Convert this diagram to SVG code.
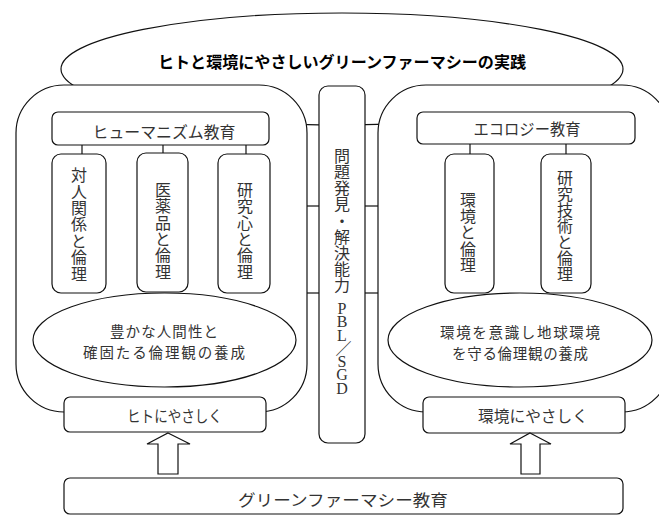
<svg xmlns="http://www.w3.org/2000/svg" width="659" height="516" viewBox="0 0 659 516">
<style>
.s{fill:#fff;stroke:#111;stroke-width:1.2}
.t{font-family:"Noto Sans CJK JP","Liberation Sans",sans-serif;font-size:16px;fill:#333;text-anchor:middle}
.e{font-family:"Noto Sans CJK JP","Liberation Sans",sans-serif;font-size:14.5px;fill:#333;text-anchor:middle}
.v{font-family:"Noto Sans CJK JP","Liberation Sans",sans-serif;font-size:16px;fill:#333;text-anchor:middle;writing-mode:vertical-rl}
.l{font-family:"Liberation Serif","Noto Sans CJK JP",serif;font-size:16px;fill:#333;text-anchor:middle;writing-mode:vertical-rl;text-orientation:upright}
.c{stroke:#111;stroke-width:1.2;fill:none}
</style>
<rect width="659" height="516" fill="#fff"/>
<g id="title">
<ellipse class="s" cx="342" cy="69" rx="281" ry="56"/>
<text x="342" y="68" font-family="'Noto Sans CJK JP','Liberation Sans',sans-serif" font-size="16" font-weight="bold" fill="#000" text-anchor="middle" textLength="368" lengthAdjust="spacingAndGlyphs">ヒトと環境にやさしいグリーンファーマシーの実践</text>
</g>
<g id="human-frame"><rect class="s" x="16" y="85" width="291" height="327" rx="48" ry="48"/></g>
<g id="eco-frame"><rect class="s" x="378" y="85" width="292" height="327" rx="48" ry="48"/></g>
<g id="pbl">
<rect class="s" x="319" y="86" width="46" height="357" rx="9" ry="9"/>
<text class="v" x="342" y="220.5" letter-spacing="0.1">問題発見・解決能力</text>
<text class="l" x="342" y="346.5" letter-spacing="-3.5">PBL／SGD</text>
</g>
<g id="connectors">
<line class="c" x1="307" y1="206" x2="319" y2="206"/>
<line class="c" x1="307" y1="293" x2="319" y2="293"/>
<line class="c" x1="365" y1="206" x2="378" y2="206"/>
<line class="c" x1="365" y1="293" x2="378" y2="293"/>
<line class="c" x1="82" y1="145" x2="82" y2="154"/>
<line class="c" x1="163" y1="145" x2="163" y2="153"/>
<line class="c" x1="246" y1="145" x2="246" y2="154"/>
<line class="c" x1="470" y1="144" x2="470" y2="154"/>
<line class="c" x1="566" y1="144" x2="566" y2="154"/>
</g>
<g id="humanism">
<rect class="s" x="52" y="112" width="217" height="33" rx="6" ry="6"/>
<text class="t" x="164" y="138" textLength="143" lengthAdjust="spacingAndGlyphs">ヒューマニズム教育</text>
</g>
<g id="interpersonal">
<rect class="s" x="52" y="154" width="54" height="139" rx="9" ry="9"/>
<text class="v" x="79" y="224.5" letter-spacing="0.4">対人関係と倫理</text>
</g>
<g id="medicine">
<rect class="s" x="137" y="153" width="51" height="139" rx="9" ry="9"/>
<text class="v" x="163" y="231" letter-spacing="0.3">医薬品と倫理</text>
</g>
<g id="research-mind">
<rect class="s" x="218" y="154" width="52" height="139" rx="9" ry="9"/>
<text class="v" x="245" y="231" letter-spacing="0.3">研究心と倫理</text>
</g>
<g id="human-goal">
<ellipse class="s" cx="164.5" cy="340" rx="131.5" ry="47"/>
<text class="e" x="164" y="337" textLength="108" lengthAdjust="spacing">豊かな人間性と</text>
<text class="e" x="164" y="358" textLength="162" lengthAdjust="spacing">確固たる倫理観の養成</text>
</g>
<g id="ecology">
<rect class="s" x="417" y="112" width="218" height="32" rx="6" ry="6"/>
<text class="t" x="527" y="135" textLength="107" lengthAdjust="spacingAndGlyphs">エコロジー教育</text>
</g>
<g id="env-ethics">
<rect class="s" x="445" y="154" width="49" height="139" rx="9" ry="9"/>
<text class="v" x="468" y="232.5" letter-spacing="0.2">環境と倫理</text>
</g>
<g id="research-tech">
<rect class="s" x="541" y="154" width="50" height="139" rx="9" ry="9"/>
<text class="v" x="565" y="226">研究技術と倫理</text>
</g>
<g id="eco-goal">
<ellipse class="s" cx="520" cy="340" rx="132" ry="47"/>
<text class="e" x="520" y="338" textLength="160" lengthAdjust="spacing">環境を意識し地球環境</text>
<text class="e" x="520" y="359" textLength="136" lengthAdjust="spacing">を守る倫理観の養成</text>
</g>
<g id="kind-to-people">
<rect class="s" x="64" y="397" width="202" height="35" rx="6" ry="6"/>
<text class="t" x="174.5" y="422" font-size="17" textLength="95" lengthAdjust="spacingAndGlyphs">ヒトにやさしく</text>
</g>
<g id="kind-to-env">
<rect class="s" x="423" y="397" width="202" height="36" rx="6" ry="6"/>
<text class="t" x="533" y="422" font-size="17" textLength="110" lengthAdjust="spacingAndGlyphs">環境にやさしく</text>
</g>
<g id="arrows">
<polygon class="s" points="168,433 190,444 178,444 178,474 158,474 158,444 147,444"/>
<polygon class="s" points="530,433 551,444 540,444 540,474 521,474 521,444 510,444"/>
</g>
<g id="green-pharmacy">
<rect class="s" x="64" y="478" width="559" height="36" rx="6" ry="6"/>
<text class="t" x="343" y="506" font-size="17.5" textLength="210" lengthAdjust="spacingAndGlyphs">グリーンファーマシー教育</text>
</g>
</svg>
